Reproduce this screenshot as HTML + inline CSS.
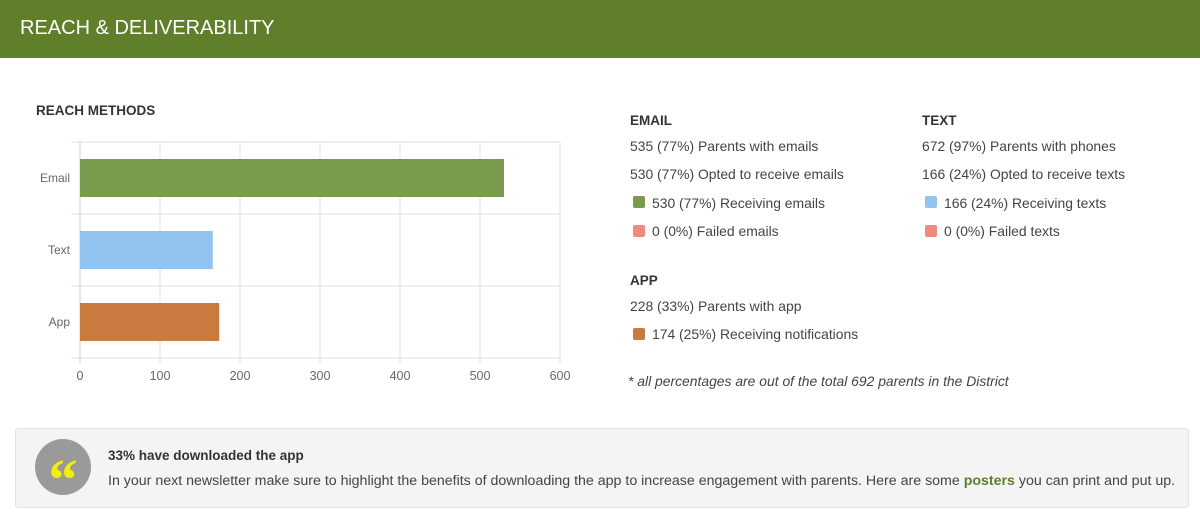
<!DOCTYPE html>
<html><head><meta charset="utf-8"><style>
body{margin:0;width:1200px;height:522px;background:#fff;font-family:"Liberation Sans",sans-serif;position:relative;overflow:hidden;color:#444}
.hdr{position:absolute;left:0;top:0;width:1200px;height:58px;background:#5f7f2a}
.hdr span{position:absolute;left:20px;top:17px;color:#fff;font-size:20px}
.t{position:absolute;font-size:13.9px;color:#444;white-space:nowrap}
.h{position:absolute;font-size:13.5px;font-weight:bold;color:#333}
.sw{position:absolute;width:12px;height:12px;border-radius:2px}
</style></head><body>
<div class="hdr"><span>REACH &amp; DELIVERABILITY</span></div>
<div class="h" style="left:36px;top:103px">REACH METHODS</div>
<svg id="chart" style="position:absolute;left:0;top:0" width="600" height="400"></svg>

<div class="h" style="left:630px;top:113px">EMAIL</div>
<div class="t" style="left:630px;top:138px">535 (77%) Parents with emails</div>
<div class="t" style="left:630px;top:166px">530 (77%) Opted to receive emails</div>
<div class="sw" style="left:633px;top:196px;background:#7a9a4e"></div>
<div class="t" style="left:652px;top:195px">530 (77%) Receiving emails</div>
<div class="sw" style="left:633px;top:225px;background:#ef8a80"></div>
<div class="t" style="left:652px;top:223px">0 (0%) Failed emails</div>

<div class="h" style="left:922px;top:113px">TEXT</div>
<div class="t" style="left:922px;top:138px">672 (97%) Parents with phones</div>
<div class="t" style="left:922px;top:166px">166 (24%) Opted to receive texts</div>
<div class="sw" style="left:925px;top:196px;background:#93c4f0"></div>
<div class="t" style="left:944px;top:195px">166 (24%) Receiving texts</div>
<div class="sw" style="left:925px;top:225px;background:#ef8a80"></div>
<div class="t" style="left:944px;top:223px">0 (0%) Failed texts</div>

<div class="h" style="left:630px;top:273px">APP</div>
<div class="t" style="left:630px;top:298px">228 (33%) Parents with app</div>
<div class="sw" style="left:633px;top:328px;background:#c97a3f"></div>
<div class="t" style="left:652px;top:326px">174 (25%) Receiving notifications</div>
<div class="t" style="left:628px;top:373px;font-style:italic">* all percentages are out of the total 692 parents in the District</div>

<div style="position:absolute;left:15px;top:428px;width:1172px;height:78px;background:#f4f4f4;border:1px solid #e2e2e2;border-radius:3px">
 <div style="position:absolute;left:19px;top:10px;width:56px;height:56px;border-radius:50%;background:#9a9a9a;color:#f5f000;font-size:58px;font-weight:bold;text-align:center;line-height:82px;font-family:'Liberation Serif',serif">“</div>
 <div class="h" style="left:92px;top:19px">33% have downloaded the app</div>
 <div class="t" style="left:92px;top:44px;font-size:14.2px">In your next newsletter make sure to highlight the benefits of downloading the app to increase engagement with parents. Here are some <b style="color:#5f7f2a">posters</b> you can print and put up.</div>
</div>

<script>
const categories=["Email","Text","App"];
const values=[530,166,174];
const colors=["#7a9a4e","#93c4f0","#c97a3f"];
const ticks=[0,100,200,300,400,500,600];
const svg=document.getElementById('chart');
const NS='http://www.w3.org/2000/svg';
const x0=80,x1=560,y0=142,y1=358,xmax=600;
const xs=v=>x0+(x1-x0)*v/xmax;
const band=(y1-y0)/categories.length;
function mk(t,a){const e=document.createElementNS(NS,t);for(const k in a)e.setAttribute(k,a[k]);svg.appendChild(e);return e;}
ticks.forEach(t=>{
 const l=mk('line',{x1:xs(t),x2:xs(t),y1:y0,y2:y1+5,stroke:t===0?'#ccc':'#e2e2e2'});
 
 
 const tx=mk('text',{x:xs(t),y:380,'text-anchor':'middle','font-size':'12.5','fill':'#666','font-family':'Liberation Sans, sans-serif'});
 tx.textContent=t;
 
 
});
for(let i=0;i<=categories.length;i++){
 const l=mk('line',{x1:x0-9,x2:x1,y1:y0+band*i,y2:y0+band*i,stroke:'#e0e0e0'});
 
 
}
categories.forEach((c,i)=>{
 const yc=y0+band*(i+0.5);
 const r=mk('rect',{x:xs(0),y:yc-19,width:xs(values[i])-xs(0),height:38,fill:colors[i]});
 
 
 const tx=mk('text',{x:70,y:yc+4,'text-anchor':'end','font-size':'12','fill':'#666','font-family':'Liberation Sans, sans-serif'});
 tx.textContent=c;
 
 
});
</script>
</body></html>
